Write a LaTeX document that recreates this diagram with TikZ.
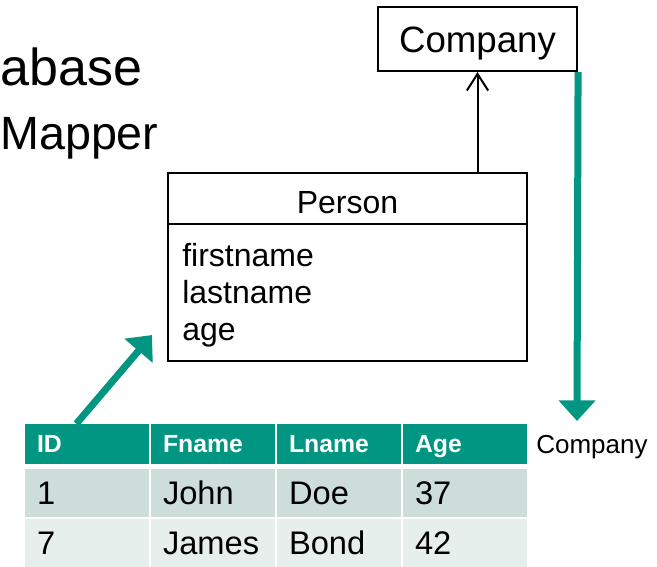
\documentclass[tikz,border=0pt]{standalone}
\usepackage{fontspec}
\setmainfont{Liberation Sans}
\definecolor{tealgreen}{RGB}{0,150,130}
\definecolor{rowdark}{RGB}{205,222,218}
\definecolor{rowlight}{RGB}{231,239,237}
\usetikzlibrary{arrows.meta, calc}

\begin{document}
\begin{tikzpicture}[x=0.75pt, y=-0.75pt,
  umlbox/.style={draw, line width=1.6pt, inner sep=0pt},
  attr/.style={anchor=base west, inner sep=0pt, font=\fontsize{24}{29}\selectfont},
  uml/.style={-{Straight Barb[length=12.5pt, width=16pt]}, line width=1.5pt},
  flow/.style={-{Triangle[length=15.5pt, width=27pt]}, line width=5.25pt, tealgreen},
  cell/.style={fill=#1, text width=75pt, inner xsep=9pt, inner ysep=0pt, align=left,
    minimum height=36pt, font=\fontsize{24.5}{29}\selectfont,
    text height=17.5pt, text depth=0pt},
  head/.style={cell=tealgreen, minimum height=30pt, text=white,
    font=\fontsize{18.6}{22}\selectfont\bfseries, text height=13.3pt},
]
\useasboundingbox (0,0) rectangle (657,567);

% Titles
\node[anchor=base west, inner sep=0pt, font=\fontsize{39}{47}\selectfont] (title) at (0,85) {abase};
\node[anchor=base west, inner sep=0pt, font=\fontsize{35}{42}\selectfont] (subtitle) at (0,149) {Mapper};

% Classes
\node[umlbox, minimum width=149.25pt, minimum height=48pt, font=\fontsize{27.5}{33}\selectfont,
  text height=19.8pt, text depth=0pt] (company) at (477.5,39) {Company};
\node[umlbox, minimum width=269.25pt, minimum height=141pt] (person) at (347.5,267) {};
\node[anchor=base, inner sep=0pt, font=\fontsize{24}{29}\selectfont] (pname) at (347.5,213) {Person};
\draw[line width=1.6pt] ($(person.north west)+(0,52)$) -- ($(person.north east)+(0,52)$);
\node[attr] (fn) at (182,266) {firstname};
\node[attr] (ln) at (182,303) {lastname};
\node[attr] (ag) at (182,340) {age};

\draw[uml] (person.north -| company) -- (company.south);

% Table
\node[head] (hid) at (87,444) {ID};
\node[head] (hfn) at (213,444) {Fname};
\node[head] (hln) at (339,444) {Lname};
\node[head] (hage) at (465,444) {Age};
\node[cell=rowdark] (aid) at (87,493) {1};
\node[cell=rowdark] (afn) at (213,493) {John};
\node[cell=rowdark] (aln) at (339,493) {Doe};
\node[cell=rowdark] (aage) at (465,493) {37};
\node[cell=rowlight] (bid) at (87,543) {7};
\node[cell=rowlight] (bfn) at (213,543) {James};
\node[cell=rowlight] (bln) at (339,543) {Bond};
\node[cell=rowlight] (bage) at (465,543) {42};

\node[anchor=base west, inner sep=0pt, font=\fontsize{19.5}{23}\selectfont] (fklabel) at (536,453) {Company};

% Mapping arrows
\coordinate (drop) at (577,421);
\draw[flow] (company.south east) -- (drop);
\draw[flow] ([xshift=-8pt]hid.north) -- ([shift={(-15,-27)}]person.south west);
\end{tikzpicture}
\end{document}
